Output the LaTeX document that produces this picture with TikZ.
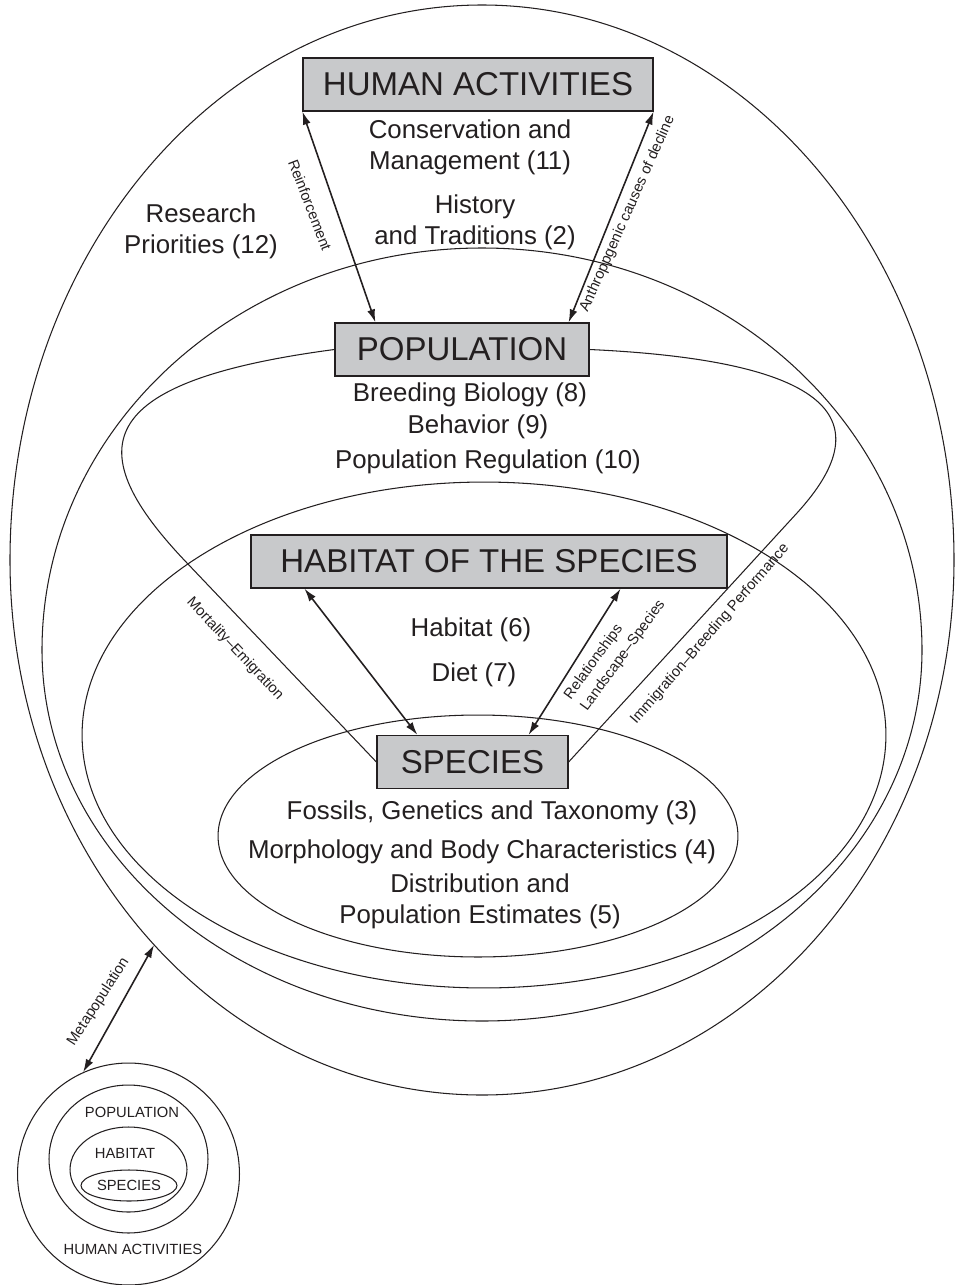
\documentclass[tikz,border=0pt]{standalone}
\usepackage{fontspec}
\setmainfont{Liberation Sans}
\usepackage{tikz}
\usetikzlibrary{arrows.meta,positioning,shapes.geometric}
\definecolor{boxgray}{RGB}{200,201,203}
\definecolor{ink}{RGB}{35,31,32}

\begin{document}
\begin{tikzpicture}[
      x=0.02cm,y=-0.02cm,>={Latex[length=2.6mm,width=1.6mm]},
      title/.style={draw=ink,fill=boxgray,line width=0.7pt,minimum height=1.06cm,inner sep=0pt,font=\fontsize{18.8}{22}\selectfont,text=ink},
      topic/.style={align=center,font=\fontsize{14.7}{17.6}\selectfont,text=ink,inner sep=0pt},
      tag/.style={font=\fontsize{8.4}{11.4}\selectfont,text=ink,inner sep=0pt},
      ring/.style={ellipse,draw=ink,line width=0.6pt,inner sep=0pt},
      curve/.style={draw=ink,line width=0.6pt},
      link/.style={<->,draw=ink,line width=0.9pt}]
    \useasboundingbox (0,0) rectangle (959,1285);
    % nested levels
    \draw[curve] (10,560) arc[start angle=180,end angle=360,x radius=472,y radius=555]
                 arc[start angle=0,end angle=180,x radius=472,y radius=535] -- cycle;
    \draw[curve] (42,650) arc[start angle=180,end angle=360,x radius=440,y radius=402]
                 arc[start angle=0,end angle=180,x radius=440,y radius=371] -- cycle;
    \node[ring,minimum width=16.08cm,minimum height=10.12cm] (habring) at (484,735) {};
    \node[ring,minimum width=10.4cm,minimum height=4.84cm] (specring) at (478,836) {};
    \coordinate (metatip) at ({482+472*cos(134)},{560+535*sin(134)});

    \node[title,minimum width=7cm] (human) at (478,84.5) {HUMAN ACTIVITIES};
    \node[title,minimum width=5.08cm] (pop) at (462,349.5) {POPULATION};
    \node[title,minimum width=9.52cm] (hab) at (489,561.5) {HABITAT OF THE SPECIES};
    \node[title,minimum width=3.82cm] (spec) at (472.5,762) {SPECIES};

    \node[topic] at (201,231) {Research\\Priorities (12)};
    \node[topic] at (470,147.5) {Conservation and\\Management (11)};
    \node[topic] at (475,222.5) {History\\and Traditions (2)};
    \foreach \txt/\xx/\yy in {{Breeding Biology (8)}/470/395,{Behavior (9)}/478/427,
        {Population Regulation (10)}/488/462,{Habitat (6)}/471/630,{Diet (7)}/474/675,
        {Fossils, Genetics and Taxonomy (3)}/492/813,{Morphology and Body Characteristics (4)}/482/852}
      \node[topic] at (\xx,\yy) {\txt};
    \node[topic] at (480,901) {Distribution and\\Population Estimates (5)};

    \draw[link] (human.south west) -- ([xshift=0.82cm]pop.north west);
    \draw[link] (human.south east) -- ([xshift=-0.42cm]pop.north east);
    \draw[link] ([xshift=1.08cm]hab.south west) -- ([xshift=0.82cm]spec.north west);
    \draw[link] ([xshift=-2.14cm]hab.south east) -- ([xshift=-0.8cm]spec.north east);
    \draw[curve] (pop.west) .. controls (88.5,382) and (80,451) .. (187,563) -- (spec.west);
    \draw[curve] (pop.east) .. controls (860,362) and (870,433) .. (797,513) -- (spec.east);

    \node[tag,rotate=-69] at (310,205) {Reinforcement};
    \node[tag,rotate=66] at (627.5,214) {Anthroppgenic causes of decline};
    \node[tag,rotate=-47] at (235,649) {Mortality–Emigration};
    \node[tag,rotate=49] at (710,634) {Immigration–Breeding Performance};
    \node[tag,rotate=54,align=left] at (615,650) {Relationships\\Landscape–Species};

    % small sketch of the levels
    \node[ring,minimum size=4.44cm] (mhuman) at (128.5,1174) {};
    \node[ring,minimum width=3.18cm,minimum height=2.96cm] (mpop) at (128.5,1159) {};
    \node[ring,minimum width=2.34cm,minimum height=1.7cm] (mhab) at (128.5,1169.5) {};
    \node[ring,minimum width=1.92cm,minimum height=0.62cm,tag] (mspec) at (129,1185.5) {SPECIES};
    \node[tag] at (132,1112) {POPULATION};
    \node[tag] at (125,1153) {HABITAT};
    \node[tag] at (133,1249) {HUMAN ACTIVITIES};
    \draw[link] (mhuman.114.5) -- (metatip);
    \node[tag,rotate=57] at (98.5,1002) {Metapopulation};
  \end{tikzpicture}
\end{document}
